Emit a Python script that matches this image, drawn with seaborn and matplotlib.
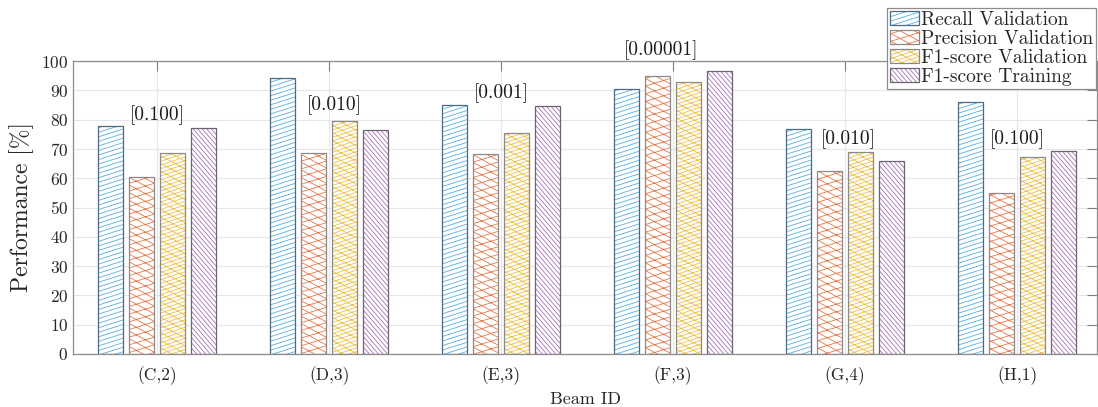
import numpy as np
import pandas as pd
import matplotlib
matplotlib.use("Agg")
import matplotlib.pyplot as plt
import matplotlib.hatch as mhatch
from matplotlib.path import Path
from matplotlib.colors import to_rgba
import seaborn as sns
import warnings
warnings.filterwarnings("ignore")

# ---------------- data ----------------
beams = ['(C,2)', '(D,3)', '(E,3)', '(F,3)', '(G,4)', '(H,1)']
metrics = ['Recall Validation', 'Precision Validation', 'F1-score Validation', 'F1-score Training']
recall = [77.8, 94.1, 84.9, 90.4, 76.7, 85.9]
precision = [60.4, 68.7, 68.2, 94.8, 62.6, 54.8]
f1_val = [68.5, 79.5, 75.4, 92.7, 69.0, 67.2]
f1_train = [77.2, 76.5, 84.8, 96.5, 65.9, 69.4]
p_labels = ['[0.100]', '[0.010]', '[0.001]', '[0.00001]', '[0.010]', '[0.100]']
p_label_x = [0.0, 1.03, 2.0, 2.93, 4.02, 5.0]
p_label_y = [81.6, 85.0, 89.0, 103.8, 73.4, 73.4]
yticks = list(range(0, 101, 10))

# ---------------- custom hatches ----------------
def _lines(slope, d, falling=False):
    segs = []
    cs = np.arange(-abs(slope) - d, 1 + d + abs(slope), d)
    for c in cs:
        if falling:
            segs.append(((0.0, c), (1.0, c - slope)))
        else:
            segs.append(((0.0, c), (1.0, c + slope)))
    return segs

HATCH_SPECS = {
    '/': _lines(7 / 22, 1 / 22),
    'x': _lines(7 / 13, 1 / 13, falling=True) + _lines(4 / 13, 1 / 13),
    '+': _lines(9 / 27, 1 / 27) + _lines(7 / 13, 1 / 13, falling=True),
    '\\': _lines(22 / 19, 1 / 19, falling=True),
}
_orig_get_path = mhatch.get_path

def _custom_get_path(hatchpattern, density=6):
    if hatchpattern in HATCH_SPECS:
        segs = HATCH_SPECS[hatchpattern]
        verts = []
        codes = []
        for a, b in segs:
            verts += [a, b]
            codes += [Path.MOVETO, Path.LINETO]
        return Path(np.array(verts), np.array(codes, dtype=Path.code_type))
    return _orig_get_path(hatchpattern, density)

mhatch.get_path = _custom_get_path

# ---------------- style ----------------
sns.set_style("white")
plt.rcParams['font.family'] = ['cmr10', 'DejaVu Serif']
plt.rcParams['mathtext.fontset'] = 'cm'
plt.rcParams['axes.formatter.use_mathtext'] = True
plt.rcParams['hatch.linewidth'] = 0.6

hatches = ['/', 'x', '+', '\\']
hatch_colors = ['#55aee0', '#e8774a', '#efc04a', '#a870bd']
edge_colors = ['#4d6a80', '#8a8a8a', '#8a8a8a', '#6e6470']

df = pd.DataFrame({
    'beam': beams * 4,
    'value': recall + precision + f1_val + f1_train,
    'metric': sum([[m] * len(beams) for m in metrics], []),
})

fig = plt.figure(figsize=(10.98, 4.07), dpi=100)
ax = fig.add_axes([73 / 1098, 53 / 407, (1097 - 73) / 1098, 293 / 407])

sns.barplot(data=df, x='beam', y='value', hue='metric', order=beams,
            hue_order=metrics, width=0.72, gap=0.2, errorbar=None,
            legend=False, ax=ax)

for cont, h, hc, ec in zip(ax.containers, hatches, hatch_colors, edge_colors):
    for bar in cont:
        bar.set_facecolor('white')
        bar.set_edgecolor(ec)
        bar.set_linewidth(0.9)
        bar.set_hatch(h)
        if hasattr(bar, 'set_hatchcolor'):
            bar.set_hatchcolor(hc)
        else:
            bar._hatch_color = to_rgba(hc)

for x, y, t in zip(p_label_x, p_label_y, p_labels):
    ax.text(x, y, t, ha='center', va='center', fontsize=14, color='#1a1a1a',
            clip_on=False)

ax.set_xlim(-0.49, 5.465)
ax.set_ylim(0, 100)
ax.set_yticks(yticks)
ax.set_xlabel('Beam ID', fontsize=13, color='#262626', labelpad=5)
ax.set_ylabel('Performance [%]', fontsize=17, color='#262626', labelpad=5)
ax.tick_params(axis='both', direction='in', length=7, width=0.8,
               top=True, right=True, colors='#262626', labelsize=12.5,
               color='#808080')
ax.tick_params(axis='x', pad=9)
ax.grid(True, color='#e6e6e6', linewidth=0.8)
ax.set_axisbelow(True)
for s in ax.spines.values():
    s.set_visible(True)
    s.set_color('#8c8c8c')
    s.set_linewidth(0.9)

handles = [c[0] for c in ax.containers]
leg = ax.legend(handles, metrics, loc='upper right', bbox_to_anchor=(0.9995, 1.181),
                fontsize=14, frameon=True, fancybox=False, framealpha=1,
                edgecolor='#8c8c8c', borderpad=0.15, labelspacing=0.06,
                handlelength=1.45, handleheight=0.72, handletextpad=0.15,
                borderaxespad=0.0)
leg.get_frame().set_linewidth(0.9)

fig.savefig('out.png', dpi=100)
